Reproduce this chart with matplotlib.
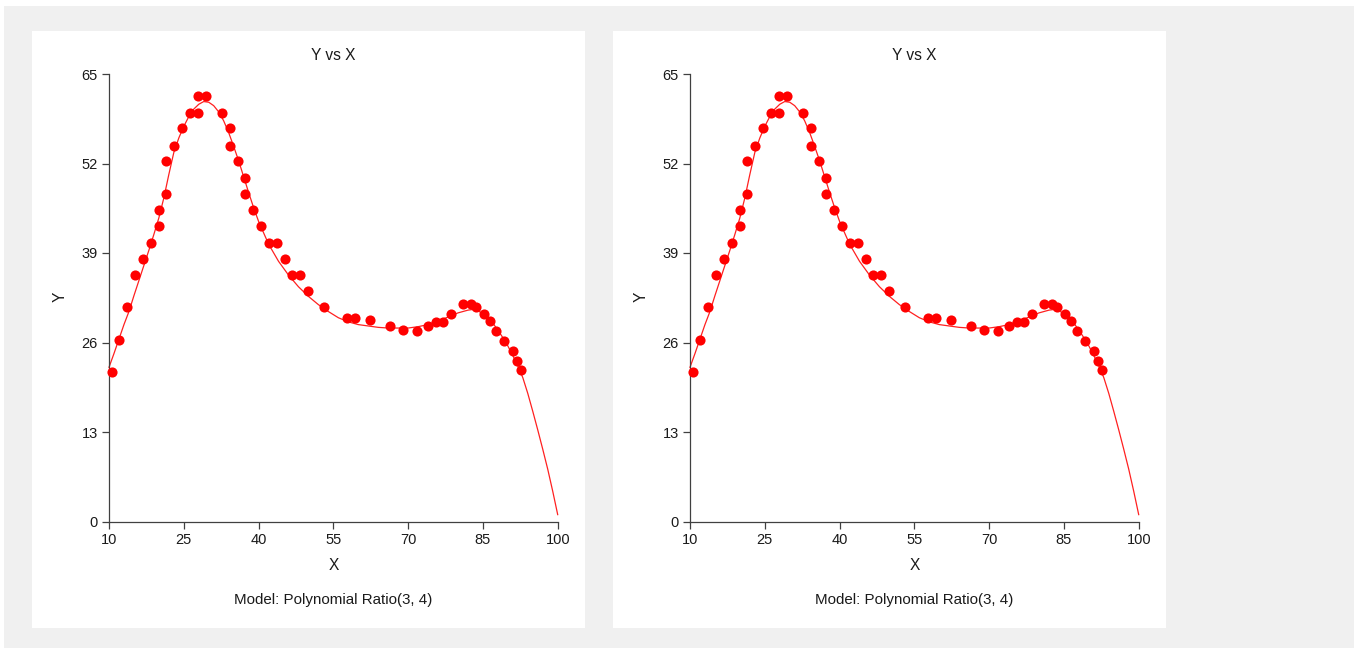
import matplotlib
matplotlib.use("Agg")
import matplotlib.pyplot as plt
from matplotlib.patches import Rectangle

plt.rcParams['font.family'] = ['Liberation Sans', 'DejaVu Sans']

x_obs = [10.6, 12.0, 13.7, 15.2, 16.8, 18.4, 20.0, 20.0, 21.5, 21.5, 23.1, 24.7, 26.3,
         27.9, 27.9, 29.5, 32.6, 34.2, 34.2, 35.8, 37.3, 37.3, 38.9, 40.5, 42.1, 43.7,
         45.3, 46.8, 48.3, 49.9, 53.2, 57.8, 59.4, 62.4, 66.4, 69.0, 71.7, 73.9, 75.5,
         77.0, 78.6, 81.1, 82.6, 83.7, 85.2, 86.4, 87.7, 89.3, 91.1, 91.8, 92.7]
y_obs = [21.7, 26.4, 31.2, 35.8, 38.1, 40.5, 42.9, 45.2, 47.6, 52.3, 54.6, 57.1, 59.4,
         59.4, 61.8, 61.8, 59.4, 57.1, 54.6, 52.3, 49.9, 47.6, 45.2, 42.9, 40.5, 40.5,
         38.1, 35.8, 35.8, 33.5, 31.2, 29.6, 29.6, 29.3, 28.4, 27.8, 27.7, 28.4, 29.0,
         29.0, 30.2, 31.6, 31.6, 31.1, 30.2, 29.1, 27.7, 26.2, 24.7, 23.3, 22.0]

# fitted curve
x_fit = [10, 11, 12, 13, 14, 15, 16, 17, 18, 19, 20, 21, 22, 23, 24, 25, 26, 27, 28, 29,
         30, 31, 32, 33, 34, 35, 36, 37, 38, 39, 40, 42, 44, 46, 48, 50, 52, 54, 56, 58,
         60, 62, 64, 66, 68, 70, 72, 74, 76, 78, 80, 82, 83, 84, 85, 86, 87, 88, 89, 90,
         91, 92, 93, 94, 95, 96, 97, 98, 99, 100]
y_fit = [22.4, 24.4, 26.5, 28.6, 30.5, 32.8, 35.0, 37.2, 39.4, 41.7, 44.1, 47.0, 50.4,
         53.6, 55.7, 57.4, 58.8, 59.9, 60.6, 61.0, 60.9, 60.4, 59.5, 58.2, 56.5, 54.5,
         52.4, 50.1, 47.8, 45.6, 43.6, 40.3, 37.8, 35.8, 34.1, 32.7, 31.5, 30.5, 29.6,
         29.0, 28.6, 28.4, 28.2, 28.1, 28.1, 28.1, 28.3, 28.6, 29.1, 29.7, 30.3, 30.7,
         30.8, 30.6, 30.2, 29.6, 28.8, 27.8, 26.7, 25.5, 24.1, 22.6, 20.9, 18.6, 16.0,
         13.3, 10.5, 7.6, 4.4, 1.0]

x_ticks = [10, 25, 40, 55, 70, 85, 100]
y_ticks = [0, 13, 26, 39, 52, 65]

W, H = 1354, 648
fig = plt.figure(figsize=(W / 100, H / 100), dpi=100, facecolor='white')


def fx(px):
    return px / W


def fy(py):
    return 1 - py / H


# grey page background
fig.patches.append(Rectangle((fx(4), 0), 1, fy(6), transform=fig.transFigure,
                             facecolor='#f0f0f0', edgecolor='none', zorder=-3))


def draw_panel(off):
    # white card
    fig.patches.append(Rectangle((fx(32 + off), fy(628)), fx(553), fy(31) - fy(628),
                                 transform=fig.transFigure, facecolor='white',
                                 edgecolor='none', zorder=-2))
    ax = fig.add_axes([fx(109 + off), fy(521.5), fx(448.7), fy(74) - fy(521.5)])
    ax.patch.set_alpha(0)
    ax.plot(x_fit, y_fit, color='#ff2020', lw=0.9, clip_on=False, zorder=2)
    ax.plot(x_obs, y_obs, 'o', color='#ff0000', ms=7.3, mew=0, clip_on=False, zorder=3)
    ax.set_xlim(10, 100)
    ax.set_ylim(0, 65)
    ax.set_xticks(x_ticks)
    ax.set_yticks(y_ticks)
    for s in ['top', 'right']:
        ax.spines[s].set_visible(False)
    for s in ['left', 'bottom']:
        ax.spines[s].set_color('#404040')
        ax.spines[s].set_linewidth(0.9)
    ax.tick_params(direction='out', length=5, width=0.9, color='#404040',
                   labelsize=10.5, labelcolor='#1a1a1a', pad=3)
    cx = (109 + 557.7) / 2 + off
    fig.text(fx(cx), fy(55), 'Y vs X', ha='center', va='center', fontsize=11.2, color='#1a1a1a')
    fig.text(fx(cx), fy(566), 'X', ha='center', va='center', fontsize=11.2, color='#1a1a1a')
    fig.text(fx(cx), fy(600), 'Model: Polynomial Ratio(3, 4)', ha='center', va='center',
             fontsize=10.9, color='#1a1a1a')
    fig.text(fx(60 + off), fy(297), 'Y', ha='center', va='center', rotation=90,
             fontsize=11.2, color='#1a1a1a')
    return ax


draw_panel(0)
draw_panel(581)

fig.savefig('out.png', dpi=100, facecolor=fig.get_facecolor())
